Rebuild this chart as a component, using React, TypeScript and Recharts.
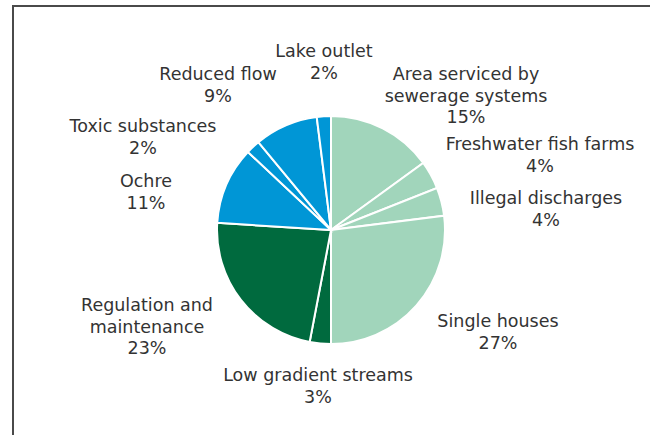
import React from 'react';
import { PieChart, Pie, Cell } from 'recharts';

const names = [
  'Area serviced by\nsewerage systems',
  'Freshwater fish farms',
  'Illegal discharges',
  'Single houses',
  'Low gradient streams',
  'Regulation and\nmaintenance',
  'Ochre',
  'Toxic substances',
  'Reduced flow',
  'Lake outlet',
];
const shares = [15, 4, 4, 27, 3, 23, 11, 2, 9, 2];
const groups = ['light', 'light', 'light', 'light', 'dark', 'dark', 'blue', 'blue', 'blue', 'blue'];

const GROUP_COLORS: Record<string, string> = {
  light: '#a1d5bb',
  dark: '#006a3e',
  blue: '#0096d6',
};

// label placement, relative to the pie centre (first line centre)
const LABEL_OFFSETS = [
  [135, -156],
  [209, -86],
  [215, -32],
  [167, 91],
  [-13, 145],
  [-184, 75],
  [-185, -49],
  [-188, -104],
  [-113, -156],
  [-7, -179],
];

const data = names.map((name, i) => ({ name, value: shares[i], group: groups[i] }));

const renderLabel = (props: any) => {
  const { cx, cy, index, payload, value } = props;
  const [ox, oy] = LABEL_OFFSETS[index];
  const lines = [...String(payload.name ?? props.name).split('\n'), `${value}%`];
  const x = cx + ox;
  return (
    <text
      x={x}
      y={cy + oy}
      textAnchor="middle"
      dominantBaseline="central"
      fill="#333"
      style={{ fontFamily: '"DejaVu Sans", sans-serif', fontSize: 17.5 }}
    >
      {lines.map((l, i) => (
        <tspan key={i} x={x} dy={i === 0 ? 0 : 21.5}>
          {l}
        </tspan>
      ))}
    </text>
  );
};

export default function App() {
  return (
    <div style={{ position: 'fixed', left: 0, top: 0, width: 650, height: 435, background: '#fff', overflow: 'hidden' }}>
      <div
        style={{
          position: 'absolute',
          left: 12,
          top: 5,
          width: 700,
          height: 500,
          borderLeft: '2px solid #4a4a4a',
          borderTop: '2px solid #4a4a4a',
        }}
      />
      <div style={{ position: 'absolute', left: 0, top: 0 }}>
        <PieChart width={650} height={435} margin={{ top: 0, right: 0, bottom: 0, left: 0 }}>
          <Pie
            data={data}
            dataKey="value"
            nameKey="name"
            cx={331}
            cy={230}
            outerRadius={114}
            startAngle={90}
            endAngle={-270}
            stroke="#fff"
            strokeWidth={2}
            labelLine={false}
            label={renderLabel}
            isAnimationActive={false}
          >
            {data.map((d, i) => (
              <Cell key={`cell-${i}`} fill={GROUP_COLORS[d.group]} />
            ))}
          </Pie>
        </PieChart>
      </div>
    </div>
  );
}
